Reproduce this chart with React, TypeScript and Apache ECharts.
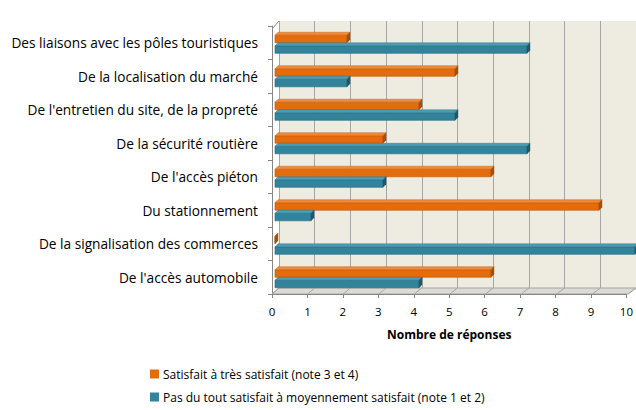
import React, { useEffect, useRef } from "react";
import * as echarts from "echarts";

const categories = [
  "Des liaisons avec les pôles touristiques",
  "De la localisation du marché",
  "De l'entretien du site, de la propreté",
  "De la sécurité routière",
  "De l'accès piéton",
  "Du stationnement",
  "De la signalisation des commerces",
  "De l'accès automobile",
];
const satisfied = [2, 5, 4, 3, 6, 9, 0, 6];
const unsatisfied = [7, 2, 5, 7, 3, 1, 10, 4];
const seriesNames = [
  "Satisfait à très satisfait (note 3 et 4)",
  "Pas du tout satisfait à moyennement satisfait (note 1 et 2)",
];
const xMin = 0;
const xMax = 10;
const xStep = 1;

const FONT = "'Open Sans', Lato, sans-serif";

const palettes = [
  { front: "#E46C0A", top: "#F08A3A", side: "#A94E06", edge: "#B85508" },
  { front: "#31849B", top: "#4C9DB4", side: "#1F5869", edge: "#24667A" },
];

// layout (front plane / back plane / mid plane for bars)
const FRONT = { left: 272, top: 26, width: 356, height: 268 };
const BACK = { left: 279, top: 21, width: 357, height: 267 };
const MID = { left: 275, top: 26, width: 360, height: 268 };

function makeRender(which: number) {
  return (params: any, api: any) => {
    const val = api.value(0);
    const idx = api.value(1);
    const start = api.coord([0, idx]);
    const end = api.coord([val, idx]);
    const band = api.size([0, 1])[1];
    const barH = band * 0.315;
    const d = 3;
    const y0 = which === 0 ? start[1] - barH : start[1];
    const x0 = start[0];
    const x1 = end[0];
    const p = palettes[which];
    return {
      type: "group",
      children: [
        {
          type: "rect",
          shape: { x: x0, y: y0 + d, width: Math.max(x1 - x0, 0), height: barH - d },
          style: { fill: p.front, stroke: p.edge, lineWidth: 0.6 },
        },
        {
          type: "polygon",
          shape: {
            points: [
              [x0, y0 + d],
              [x0 + d, y0],
              [x1 + d, y0],
              [x1, y0 + d],
            ],
          },
          style: { fill: p.top, stroke: p.edge, lineWidth: 0.4 },
        },
        {
          type: "polygon",
          shape: {
            points: [
              [x1, y0 + d],
              [x1 + d, y0],
              [x1 + d, y0 + barH - d],
              [x1, y0 + barH],
            ],
          },
          style: { fill: p.side, stroke: p.side, lineWidth: 0.4 },
        },
      ],
    };
  };
}

export default function App() {
  const ref = useRef<HTMLDivElement>(null);
  useEffect(() => {
    if (!ref.current) return;
    const chart = echarts.init(ref.current, null, { renderer: "svg" });

    const nTicks = Math.round((xMax - xMin) / xStep);
    const floorLines: any[] = [];
    for (let i = 0; i <= nTicks; i++) {
      const bx = BACK.left + (BACK.width * i) / nTicks;
      const fx = FRONT.left + (FRONT.width * i) / nTicks;
      floorLines.push({
        type: "line",
        shape: { x1: bx, y1: BACK.top + BACK.height, x2: fx, y2: FRONT.top + FRONT.height },
        style: { stroke: "#A6A6A6", lineWidth: 1 },
        z: 1,
      });
    }

    const legendBase = {
      orient: "horizontal",
      left: 145,
      icon: "rect",
      itemWidth: 9,
      itemHeight: 9,
      itemGap: 9,
      textStyle: { fontSize: 12, color: "#000", fontFamily: FONT, padding: [0, 0, 0, -1] },
    };

    chart.setOption({
      animation: false,
      textStyle: { fontFamily: FONT },
      grid: [
        { ...BACK, show: true, backgroundColor: "#EEECE1", borderWidth: 0 },
        { ...FRONT },
        { ...MID },
      ],
      xAxis: [
        {
          gridIndex: 0,
          type: "value",
          min: xMin,
          max: xMax,
          interval: xStep,
          axisLine: { show: false },
          axisTick: { show: false },
          axisLabel: { show: false },
          splitLine: { show: true, lineStyle: { color: "#A6A6A6", width: 1 } },
        },
        {
          gridIndex: 1,
          type: "value",
          min: xMin,
          max: xMax,
          interval: xStep,
          axisLine: { show: true, lineStyle: { color: "#868686" } },
          axisTick: { show: true, length: 4, lineStyle: { color: "#868686" } },
          axisLabel: { fontSize: 11.5, color: "#000", margin: 11, fontFamily: FONT },
          splitLine: { show: false },
          name: "Nombre de réponses",
          nameLocation: "middle",
          nameGap: 34,
          nameTextStyle: { fontSize: 12, fontWeight: "bold", color: "#000", fontFamily: FONT },
        },
        {
          gridIndex: 2,
          type: "value",
          min: xMin,
          max: xMax,
          show: false,
        },
      ],
      yAxis: [
        { gridIndex: 0, type: "category", data: categories, inverse: true, show: false },
        {
          gridIndex: 1,
          type: "category",
          data: categories,
          inverse: true,
          axisLine: { show: true, lineStyle: { color: "#868686" } },
          axisTick: { show: true, length: 4, lineStyle: { color: "#868686" } },
          axisLabel: { fontSize: 13.7, color: "#000", margin: 14, fontFamily: FONT },
        },
        { gridIndex: 2, type: "category", data: categories, inverse: true, show: false },
      ],
      legend: [
        { ...legendBase, top: 363, data: [seriesNames[0]] },
        { ...legendBase, top: 386, data: [seriesNames[1]] },
      ],
      graphic: [
        {
          type: "polygon",
          shape: {
            points: [
              [FRONT.left, FRONT.top + FRONT.height],
              [FRONT.left + FRONT.width, FRONT.top + FRONT.height],
              [BACK.left + BACK.width, BACK.top + BACK.height],
              [BACK.left, BACK.top + BACK.height],
            ],
          },
          style: { fill: "#DCDAD4", stroke: "#A6A6A6", lineWidth: 1 },
          z: 0,
        },
        ...floorLines,
        {
          type: "line",
          shape: { x1: FRONT.left, y1: FRONT.top + 3, x2: BACK.left, y2: BACK.top },
          style: { stroke: "#868686", lineWidth: 1 },
        },
      ],
      series: [
        {
          name: seriesNames[0],
          type: "custom",
          xAxisIndex: 2,
          yAxisIndex: 2,
          itemStyle: { color: palettes[0].front },
          encode: { x: 0, y: 1 },
          renderItem: makeRender(0),
          data: satisfied.map((v, i) => [v, i]),
          z: 5,
        },
        {
          name: seriesNames[1],
          type: "custom",
          xAxisIndex: 2,
          yAxisIndex: 2,
          itemStyle: { color: palettes[1].front },
          encode: { x: 0, y: 1 },
          renderItem: makeRender(1),
          data: unsatisfied.map((v, i) => [v, i]),
          z: 5,
        },
      ],
    });
    return () => chart.dispose();
  }, []);
  return <div ref={ref} style={{ width: 636, height: 410, position: "absolute", left: 0, top: 0 }} />;
}
